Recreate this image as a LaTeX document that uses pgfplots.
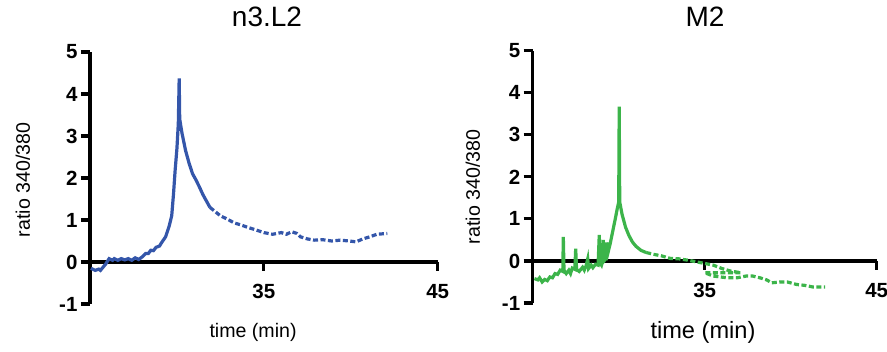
\documentclass[border=0pt]{standalone}
\usepackage{pgfplots}
\pgfplotsset{compat=1.18}
\usepackage{fontspec}
\setmainfont{Liberation Sans}
\definecolor{bl}{RGB}{52,86,170}
\definecolor{gr}{RGB}{60,180,74}
\pgfplotsset{myax/.style={
  scale only axis, xmin=25, xmax=45, ymin=-1, ymax=5,
  axis x line=middle, axis y line=left,
  axis line style={line width=3.4pt, -},
  xtick={35,45}, ytick={-1,0,1,2,3,4,5},
  major tick length=9pt,
  tick style={line width=3.2pt, black},
  tick align=outside,
  ticklabel style={font=\bfseries\fontsize{20.5}{20}\selectfont},
  xticklabel style={yshift=-10pt},
  /pgf/number format/assume math mode=true,
  clip=false,
  title style={anchor=center, font=\fontsize{28}{28}\selectfont},
}}
\begin{document}
\begin{tikzpicture}
\useasboundingbox (0,0) rectangle (887pt,352pt);
\begin{axis}[myax, at={(90pt,48pt)}, anchor=south west, width=347.7pt, height=252pt,
  title={n3.L2}, title style={at={(axis description cs:0.509,1.115)}},
  xlabel={time (min)}, xlabel style={at={(axis description cs:0.469,-0.111)}, anchor=center, font=\fontsize{19.6}{20}\selectfont},
  ylabel={ratio 340/380}, ylabel style={at={(axis description cs:-0.193,0.492)}, anchor=center, font=\fontsize{19.6}{20}\selectfont}]
\addplot[bl, line width=3.2pt] coordinates {
(25.05,-0.15) (25.3,-0.2) (25.5,-0.17) (25.6,-0.2) (25.8,-0.1) (25.9,-0.05) (26.1,0.08) (26.3,0.04) (26.4,0.08) (26.6,0.04) (26.8,0.08)
(27.0,0.05) (27.2,0.08) (27.4,0.04) (27.6,0.1) (27.8,0.06) (28.0,0.12) (28.2,0.2) (28.35,0.2) (28.5,0.28) (28.65,0.27) (28.8,0.35) (29.0,0.38) (29.1,0.45)
(29.35,0.6) (29.55,0.85) (29.7,1.1) (29.8,1.6) (29.9,2.2) (30.0,2.7) (30.08,3.3)
(30.13,4.37) (30.16,3.4) (30.3,3.05) (30.5,2.65) (30.7,2.35) (30.9,2.1) (31.1,1.95)
(31.3,1.78) (31.5,1.6) (31.7,1.45) (31.9,1.3)
};
\addplot[bl, line width=3.2pt, dash pattern=on 5pt off 2.5pt] coordinates {
(31.9,1.3) (32.2,1.2) (32.5,1.1) (32.9,1.02) (33.3,0.93) (33.7,0.88) (34.1,0.82)
(34.5,0.77) (35.0,0.7) (35.5,0.66) (36.0,0.7) (36.3,0.66) (36.6,0.72) (36.9,0.68) (37.1,0.6)
(37.5,0.55) (37.9,0.52) (38.4,0.53) (38.9,0.5) (39.4,0.52) (39.9,0.5) (40.3,0.48)
(40.7,0.55) (41.1,0.6) (41.5,0.66) (42.1,0.68)
};
\end{axis}
\begin{axis}[myax, at={(532.7pt,49pt)}, anchor=south west, width=344pt, height=252.3pt,
  title={M2}, title style={at={(axis description cs:0.501,1.11)}},
  xlabel={time (min)}, xlabel style={at={(axis description cs:0.495,-0.115)}, anchor=center, font=\fontsize{23.6}{24}\selectfont},
  ylabel={ratio 340/380}, ylabel style={at={(axis description cs:-0.174,0.46)}, anchor=center, font=\fontsize{19.6}{20}\selectfont}]
\addplot[gr, line width=3.2pt] coordinates {
(25.1,-0.42) (25.3,-0.45) (25.4,-0.4) (25.55,-0.5) (25.7,-0.44) (25.85,-0.47) (26.0,-0.38) (26.15,-0.4) (26.3,-0.3) (26.45,-0.32) (26.6,-0.22) (26.75,-0.25)
(26.78,0.57) (26.82,-0.22) (26.95,-0.3) (27.1,-0.22) (27.2,-0.3) (27.3,-0.17) (27.45,-0.2) (27.5,0.29) (27.55,-0.2)
(27.7,-0.25) (27.9,-0.15) (28.0,-0.22) (28.1,-0.12) (28.2,0.05) (28.25,-0.18) (28.4,-0.1) (28.5,-0.16) (28.65,-0.08) (28.8,-0.1) (28.87,0.62)
(28.92,-0.05) (29.0,-0.1) (29.05,-0.02) (29.1,0.5) (29.15,0.0) (29.25,0.05) (29.3,0.44) (29.38,0.2)
(29.5,0.4) (29.65,0.7) (29.8,1.0) (29.92,1.25) (30.0,1.4) (30.03,3.67) (30.06,1.4)
(30.2,1.1) (30.4,0.8) (30.6,0.6) (30.8,0.45) (31.0,0.35) (31.3,0.25) (31.6,0.2)
};
\addplot[gr, line width=3.2pt, dash pattern=on 5pt off 2.5pt] coordinates {
(31.6,0.2) (32.0,0.16) (32.5,0.12) (33.0,0.06) (33.5,0.05) (34.0,0.02) (34.5,-0.02)
(35.0,-0.06) (35.5,-0.1) (36.0,-0.18) (36.5,-0.24) (37.1,-0.28) (35.0,-0.28)
(35.5,-0.36) (36.3,-0.4) (36.9,-0.4) (37.4,-0.36) (37.8,-0.36) (38.2,-0.4) (38.6,-0.45)
(38.9,-0.52) (39.4,-0.5) (39.8,-0.5) (40.35,-0.56) (40.8,-0.58) (41.3,-0.62) (42.0,-0.62)
};
\end{axis}
\end{tikzpicture}
\end{document}
